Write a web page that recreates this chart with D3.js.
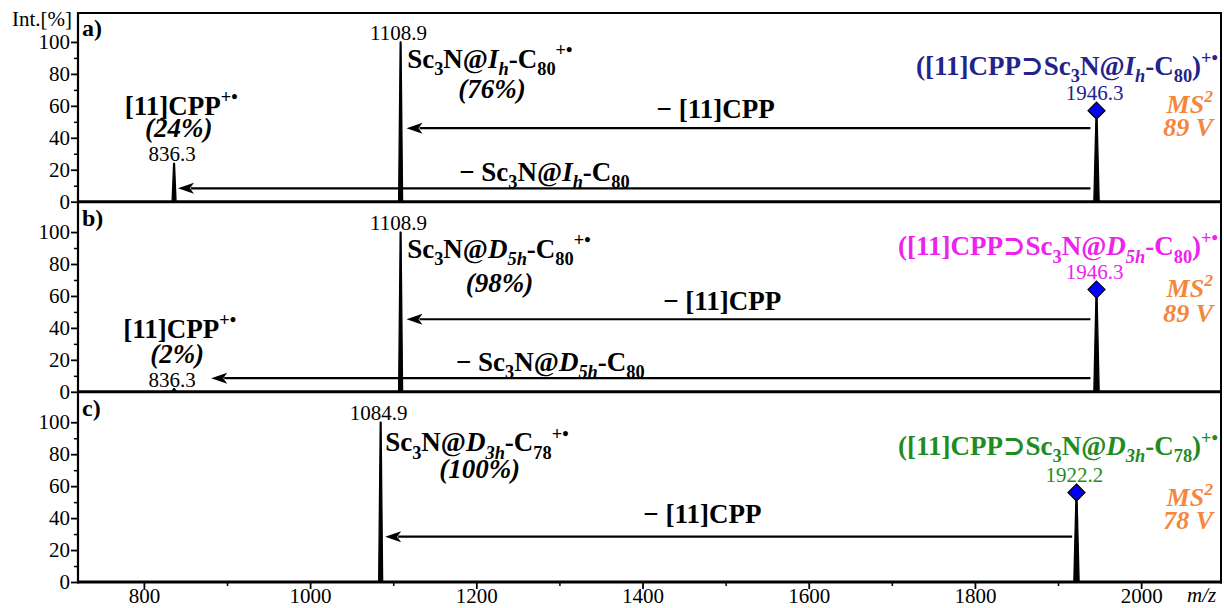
<!DOCTYPE html>
<html>
<head>
<meta charset="utf-8">
<script src="https://cdn.jsdelivr.net/npm/d3@7"></script>
<style>
  html, body { margin: 0; padding: 0; background: #fff; }
  svg { display: block; }
  svg text { font-family: "Liberation Serif", "Times New Roman", "DejaVu Serif", serif; }
</style>
</head>
<body>
<svg id="chart" width="1224" height="608"></svg>
<script>
// ---- axis ticks ----
const mzTicks = [800, 1000, 1200, 1400, 1600, 1800, 2000];
const mzMinorTicks = [900, 1100, 1300, 1500, 1700, 1900];
const intTicks = [0, 20, 40, 60, 80, 100];
const intMinorTicks = [10, 30, 50, 70, 90];

// ---- spectra: one panel per precursor ----
const panelLabels = ["a)", "b)", "c)"];
const peakMz  = [[836.3, 1108.9, 1946.3], [836.3, 1108.9, 1946.3], [1084.9, 1922.2]];
const peakInt = [[24, 100, 57], [2, 100, 64], [100, 56]];
const precursorMz  = [1946.3, 1946.3, 1922.2];
const precursorInt = [57, 64, 56];

// fullerene isomer per panel
const cageSymbol = ["I", "D", "D"];
const cageSub    = ["h", "5h", "3h"];
const carbonCount = ["80", "80", "78"];

// relative fragment shares (%)
const cppShare       = [24, 2, null];
const fullereneShare = [76, 98, 100];
const collisionVoltage = [89, 89, 78];

// label placement in data units (m/z, intensity)
const placement = [
  { cpp: [845, 54.5], cppPct: [842, 40.5], ful: [1116.8, 84], fulPct: [1219, 64.7],
    prec: 79.3, ms: 55.5, volt: 41.2,
    arrows: [ { from: 1939, to: 1116, level: 46,  text: [1488, 52.4], loss: "cpp" },
              { from: 1939, to: 841,  level: 8.4, text: [1282, 13.0], loss: "fullerene" } ] },
  { cpp: [843, 33.9], cppPct: [840, 18.2], ful: [1116.8, 84], fulPct: [1228, 62.2],
    prec: 85.5, ms: 59.5, volt: 44.0,
    arrows: [ { from: 1939, to: 1116, level: 45.4, text: [1496, 51.3], loss: "cpp" },
              { from: 1939, to: 881,  level: 8.5,  text: [1289, 13.0], loss: "fullerene" } ] },
  { cpp: null, cppPct: null, ful: [1090.3, 81.7], fulPct: [1204, 65],
    prec: 79.5, ms: 47.5, volt: 33.0,
    arrows: [ { from: 1917, to: 1090.3, level: 28.4, text: [1472, 36.9], loss: "cpp" } ] }
];

// ---- styles ----
const serif = "Liberation Serif, Times New Roman, DejaVu Serif, serif";
const precursorColors = ["#23238c", "#ee22ee", "#1f8c1f"];
const msColor = "#f5873d";
const boldSize = 27;

// ---- layout ----
const plotLeft = 78, plotRight = 1221, frameTop = 13;
const zeroLines = [201.7, 391.8, 582];
const panelH = 190.1;

const svg = d3.select("#chart");

const x = d3.scaleLinear().domain([720.7, 2096.1]).range([plotLeft, plotRight]);

function richText(g, parts, px, py, opt) {
  const size = opt.size;
  const t = g.append("text")
    .attr("x", px).attr("y", py)
    .attr("font-family", serif)
    .attr("text-anchor", opt.anchor || "start")
    .attr("fill", opt.color || "#000")
    .style("font-size", size + "px")
    .style("font-weight", opt.bold ? "bold" : "normal")
    .style("font-style", opt.italic ? "italic" : "normal");
  let cur = 0;
  parts.forEach(p => {
    const small = p.sub || p.sup;
    const target = p.sub ? size * 0.27 : p.sup ? -size * 0.42 : 0;
    t.append("tspan")
      .attr("dy", (target - cur).toFixed(2))
      .style("font-size", (small ? size * 0.68 : size) + "px")
      .style("font-style", (p.i || opt.italic) ? "italic" : "normal")
      .text(p.t);
    cur = target;
  });
  return t;
}

function fullereneParts(i) {
  return [{ t: "Sc" }, { t: "3", sub: 1 }, { t: "N@" }, { t: cageSymbol[i], i: 1 },
          { t: cageSub[i], sub: 1, i: 1 }, { t: "-C" }, { t: carbonCount[i], sub: 1 }];
}

const arrowHead = (tx, ty) => {
  const L = 16, h = 5.5, notch = 12;
  return `M${tx},${ty} L${tx + L},${ty - h} L${tx + notch},${ty} L${tx + L},${ty + h} Z`;
};

panelLabels.forEach((lab, i) => {
  const zero = zeroLines[i];
  const y = d3.scaleLinear().domain([0, 119]).range([zero, zero - panelH]);
  const g = svg.append("g").attr("class", "panel");
  const P = placement[i];

  // intensity axis
  const ya = g.append("g").attr("transform", `translate(${plotLeft},0)`)
    .call(d3.axisLeft(y).tickValues(intTicks).tickSize(7).tickPadding(1).tickFormat(d3.format("d")));
  ya.select(".domain").remove();
  ya.selectAll("line").attr("stroke", "#000").attr("stroke-width", 1.8);
  ya.selectAll("text").attr("font-family", serif).style("font-size", "21px").attr("fill", "#000");
  const ym = g.append("g").attr("transform", `translate(${plotLeft},0)`)
    .call(d3.axisLeft(y).tickValues(intMinorTicks).tickSize(4).tickFormat(""));
  ym.select(".domain").remove();
  ym.selectAll("line").attr("stroke", "#000").attr("stroke-width", 1.5);

  // panel letter
  g.append("text").attr("x", 82).attr("y", y(119) + 24).attr("font-family", serif)
    .style("font-size", "24px").style("font-weight", "bold").text(lab);

  // loss arrows
  P.arrows.forEach(a => {
    const ay = y(a.level);
    g.append("line").attr("x1", x(a.from)).attr("x2", x(a.to) + 13)
      .attr("y1", ay).attr("y2", ay).attr("stroke", "#000").attr("stroke-width", 2.2);
    g.append("path").attr("d", arrowHead(x(a.to), ay)).attr("fill", "#000");
    const parts = a.loss === "cpp" ? [{ t: "\u2212 [11]CPP" }]
      : [{ t: "\u2212 " }].concat(fullereneParts(i));
    richText(g, parts, x(a.text[0]), y(a.text[1]), { size: boldSize, bold: true, anchor: "middle" });
  });

  // peaks
  const peakPath = d3.line().x(d => x(d[0])).y(d => y(d[1]));
  peakMz[i].forEach((mz, k) => {
    const h = peakInt[i][k];
    const isPrec = mz === precursorMz[i];
    const w = isPrec ? 3.2 : 2.4;
    g.append("path")
      .attr("d", peakPath([[mz - w, 0], [mz - 0.5, h], [mz + 0.5, h], [mz + w, 0]]))
      .attr("fill", "#000").attr("stroke", "#000").attr("stroke-width", 1.3).attr("stroke-linejoin", "round");
    g.append("text")
      .attr("x", x(mz) - 2).attr("y", y(h) - (isPrec ? 11 : 2))
      .attr("font-family", serif)
      .attr("text-anchor", "middle")
      .attr("fill", isPrec ? precursorColors[i] : "#000")
      .style("font-size", "21px")
      .text(mz.toFixed(1));
  });

  // precursor marker
  const dx = x(precursorMz[i]), dy = y(precursorInt[i]);
  g.append("path")
    .attr("d", `M${dx},${dy - 8.5} L${dx + 8.5},${dy} L${dx},${dy + 8.5} L${dx - 8.5},${dy} Z`)
    .attr("fill", "#0000ff").attr("stroke", "#000").attr("stroke-width", 1.2);

  // fragment labels
  if (P.cpp) {
    richText(g, [{ t: "[11]CPP" }, { t: "+\u2022", sup: 1 }], x(P.cpp[0]), y(P.cpp[1]),
      { size: boldSize, bold: true, anchor: "middle" });
    richText(g, [{ t: `(${cppShare[i]}%)` }], x(P.cppPct[0]), y(P.cppPct[1]),
      { size: boldSize, bold: true, italic: true, anchor: "middle" });
  }
  richText(g, fullereneParts(i).concat([{ t: "+\u2022", sup: 1 }]), x(P.ful[0]), y(P.ful[1]),
    { size: boldSize, bold: true });
  richText(g, [{ t: `(${fullereneShare[i]}%)` }], x(P.fulPct[0]), y(P.fulPct[1]),
    { size: boldSize, bold: true, italic: true, anchor: "middle" });

  // precursor ion label
  const precParts = [{ t: "([11]CPP\u2283Sc" }, { t: "3", sub: 1 }, { t: "N@" }, { t: cageSymbol[i], i: 1 },
    { t: cageSub[i], sub: 1, i: 1 }, { t: "-C" }, { t: carbonCount[i], sub: 1 }, { t: ")" }, { t: "+\u2022", sup: 1 }];
  richText(g, precParts, 1218, y(P.prec), { size: boldSize, bold: true, anchor: "end", color: precursorColors[i] });

  // MS/MS conditions
  richText(g, [{ t: "MS" }, { t: "2", sup: 1 }], 1213, y(P.ms),
    { size: 26, bold: true, italic: true, anchor: "end", color: msColor });
  richText(g, [{ t: `${collisionVoltage[i]} V` }], 1213, y(P.volt),
    { size: 26, bold: true, italic: true, anchor: "end", color: msColor });
});

// m/z axis
const bottom = zeroLines[2];
const xa = svg.append("g").attr("transform", `translate(0,${bottom})`)
  .call(d3.axisBottom(x).tickValues(mzTicks).tickSize(7).tickPadding(0).tickFormat(d3.format("d")));
xa.select(".domain").remove();
xa.selectAll("line").attr("stroke", "#000").attr("stroke-width", 1.8);
xa.selectAll("text").attr("font-family", serif).attr("dy", "0.66em").style("font-size", "21px").attr("fill", "#000");
const xm = svg.append("g").attr("transform", `translate(0,${bottom})`)
  .call(d3.axisBottom(x).tickValues(mzMinorTicks).tickSize(4).tickFormat(""));
xm.select(".domain").remove();
xm.selectAll("line").attr("stroke", "#000").attr("stroke-width", 1.5);

svg.append("text").attr("x", 1187).attr("y", 602).attr("font-family", serif)
  .style("font-size", "21px").style("font-style", "italic").text("m/z");

svg.append("text").attr("x", 12).attr("y", 26).attr("font-family", serif)
  .style("font-size", "21px").text("Int.[%]");

// frame and panel baselines
const frame = svg.append("g").attr("stroke", "#000").attr("fill", "none");
frame.append("line").attr("x1", plotLeft).attr("x2", plotLeft).attr("y1", frameTop - 1).attr("y2", bottom + 1.5).attr("stroke-width", 2.2);
frame.append("line").attr("x1", plotRight).attr("x2", plotRight).attr("y1", frameTop - 1).attr("y2", bottom + 1.5).attr("stroke-width", 2);
frame.append("line").attr("x1", plotLeft).attr("x2", plotRight).attr("y1", frameTop).attr("y2", frameTop).attr("stroke-width", 2);
zeroLines.forEach(z => {
  frame.append("line").attr("x1", plotLeft).attr("x2", plotRight + 1).attr("y1", z).attr("y2", z).attr("stroke-width", 3);
});
</script>
</body>
</html>
